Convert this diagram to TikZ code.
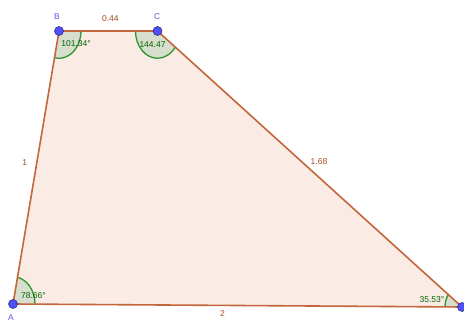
\documentclass[tikz,border=0pt]{standalone}
\usepackage{fontspec}
\setmainfont{Liberation Sans}
\definecolor{edgecol}{RGB}{196,102,60}
\definecolor{polyfill}{RGB}{250,236,229}
\definecolor{seglab}{RGB}{165,75,35}
\definecolor{angarc}{RGB}{45,150,45}
\definecolor{angfill}{RGB}{215,222,205}
\definecolor{anglab}{RGB}{0,100,0}
\definecolor{ptfill}{RGB}{80,80,250}
\definecolor{ptedge}{RGB}{30,30,120}
\definecolor{ptlab}{RGB}{90,90,230}
\tikzset{
  edge/.style={draw=edgecol, line width=1.6pt, line join=round},
  sectorfill/.style={fill=angfill},
  sectorarc/.style={draw=angarc, line width=1.3pt},
  ptnode/.style={circle, fill=ptfill, draw=ptedge, line width=0.5pt, minimum size=9pt, inner sep=0pt},
  ptlabel/.style={text=ptlab, inner sep=0pt},
  seglabel/.style={text=seglab, inner sep=0pt},
  anglabel/.style={text=anglab, inner sep=0pt}
}
\begin{document}
\begin{tikzpicture}[x=1pt,y=1.24pt,font=\fontsize{8.5}{10}\selectfont]
\useasboundingbox (0,0) rectangle (464,260.48);
\fill[white] (0,0) rectangle (464,260.48);
\coordinate (A) at (13,15.32);
\coordinate (B) at (59,235.48);
\coordinate (C) at (157.5,235.48);
\coordinate (D) at (462,12.90);
% polygon fill
\fill[polyfill] (A) -- (B) -- (C) -- (D) -- cycle;
% angle sectors
\fill[sectorfill] (A) -- ++(-0.31:22) arc[start angle=-0.31, end angle=78.2, radius=22] -- cycle;
\fill[sectorfill] (B) -- ++(258.2:22) arc[start angle=258.2, end angle=360, radius=22] -- cycle;
\fill[sectorfill] (C) -- ++(180:22) arc[start angle=180, end angle=323.83, radius=22] -- cycle;
\fill[sectorfill] (D) -- ++(143.83:17) arc[start angle=143.83, end angle=179.69, radius=17] -- cycle;
\draw[sectorarc] (A) ++(-0.31:22) arc[start angle=-0.31, end angle=78.2, radius=22];
\draw[sectorarc] (B) ++(258.2:22) arc[start angle=258.2, end angle=360, radius=22];
\draw[sectorarc] (C) ++(180:22) arc[start angle=180, end angle=323.83, radius=22];
\draw[sectorarc] (D) ++(143.83:17) arc[start angle=143.83, end angle=179.69, radius=17];
% edges
\draw[edge] (A) -- (B);
\draw[edge] (B) -- (C);
\draw[edge] (C) -- (D);
\draw[edge] (D) -- (A);
% points
\node[ptnode] (pA) at (A) {};
\node[ptnode] (pB) at (B) {};
\node[ptnode] (pC) at (C) {};
\node[ptnode] (pD) at (D) {};
% point labels
\node[ptlabel] (lA) at (11,4.03) {A};
\node[ptlabel] (lB) at (57,247.0) {B};
\node[ptlabel] (lC) at (157.3,247.4) {C};
% segment labels
\node[seglabel] (lBC) at (110.3,245.2) {0.44};
\node[seglabel] (lAB) at (24.7,129.0) {1};
\node[seglabel] (lCD) at (319,130.1) {1.68};
\node[seglabel] (lAD) at (222.5,7.3) {2};
% angle labels
\node[anglabel] (aB) at (76,225.4) {101.34°};
\node[anglabel] (aC) at (152.5,224.6) {144.47};
\node[anglabel] (aA) at (33.5,21.8) {78.66°};
\node[anglabel] (aD) at (432,18.6) {35.53°};
\end{tikzpicture}
\end{document}
